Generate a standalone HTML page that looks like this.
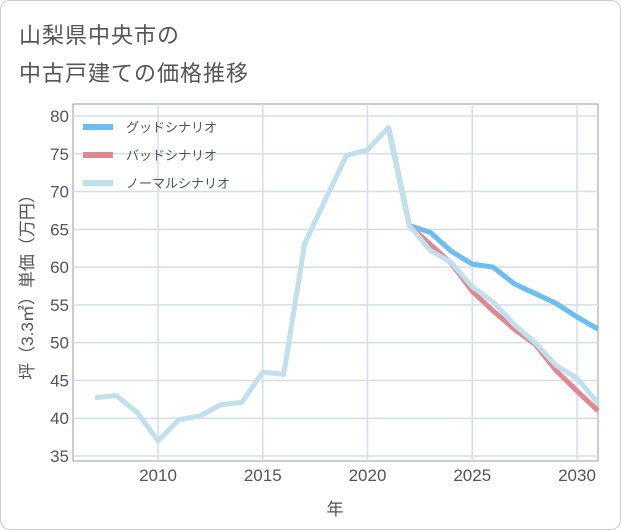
<!DOCTYPE html>
<html><head><meta charset="utf-8"><style>
body{margin:0;background:#fff;font-family:"Liberation Sans","Noto Sans CJK JP",sans-serif;}
#wrap{position:relative;width:619px;height:528px;border:1px solid #ccc;border-radius:10px;overflow:hidden;background:#fff}
.title{position:absolute;left:18px;font-size:22px;color:#555;letter-spacing:1px}
</style></head><body>
<div id="wrap">
<div class="title" style="top:17px">山梨県中央市の</div>
<div class="title" style="top:55px">中古戸建ての価格推移</div>
<svg id="chart" width="621" height="530" style="position:absolute;left:0;top:0"></svg>
</div>
<script>
const years=[2007,2008,2009,2010,2011,2012,2013,2014,2015,2016,2017,2018,2019,2020,2021,2022,2023,2024,2025,2026,2027,2028,2029,2030,2031];
const normalVals=[42.7,43.0,40.8,37.0,39.8,40.3,41.8,42.1,46.1,45.8,63.1,69.0,74.8,75.5,78.5,65.5,62.2,60.6,57.4,55.4,52.4,50.0,47.0,45.3,42.0];
const futureYears=[2021,2022,2023,2024,2025,2026,2027,2028,2029,2030,2031];
const goodVals=[78.5,65.5,64.6,62.1,60.4,60.0,57.8,56.5,55.2,53.4,51.8];
const badVals=[78.5,65.5,63.0,60.5,56.8,54.2,51.8,49.8,46.3,43.6,41.0];
const yTicks=[35,40,45,50,55,60,65,70,75,80];
const xTicks=[2010,2015,2020,2025,2030];
const legendLabels=["グッドシナリオ","バッドシナリオ","ノーマルシナリオ"];
const colors=["#6bbdf3","#e0888f","#bfe0ec"];
const L=72,R=597,T=103,B=460;
const xs=y=>157+(y-2010)*20.95;
const ys=v=>455-(v-35)*(340/45);
const svg=document.getElementById('chart');
const NS='http://www.w3.org/2000/svg';
function mk(tag,attrs,parent){const e=document.createElementNS(NS,tag);for(const k in attrs)e.setAttribute(k,attrs[k]);(parent||svg).appendChild(e);return e;}
const bg=mk('rect',{x:L,y:T,width:R-L,height:B-T,fill:'#fff',stroke:'#999','stroke-width':1});


yTicks.forEach(t=>{
 const g=mk('line',{x1:L,x2:R,y1:ys(t),y2:ys(t),stroke:'#d3dee8','stroke-width':1.5});
 
 
 const tx=mk('text',{x:L-4,y:ys(t)+6,'text-anchor':'end','font-size':17,fill:'#555'});
 tx.textContent=t;
 
 
});
xTicks.forEach(t=>{
 const g=mk('line',{x1:xs(t),x2:xs(t),y1:T,y2:B,stroke:'#d3dee8','stroke-width':1.5});
 
 
 const tx=mk('text',{x:xs(t),y:B+20,'text-anchor':'middle','font-size':17,fill:'#555'});
 tx.textContent=t;
 
 
});
function line(xv,vals,color,name){
 const p=mk('polyline',{points:xv.map((y,i)=>xs(y)+','+ys(vals[i])).join(' '),fill:'none',stroke:color,'stroke-width':5,'stroke-linejoin':'round'});
 
 
}
line(futureYears,goodVals,colors[0],'good-scenario-line');
line(futureYears,badVals,colors[1],'bad-scenario-line');
line(years,normalVals,colors[2],'normal-scenario-line');
legendLabels.forEach((lab,i)=>{
 const y=126+i*28;
 const s=mk('line',{x1:82,x2:112,y1:y,y2:y,stroke:colors[i],'stroke-width':6});
 
 
 const tx=mk('text',{x:125,y:y+5,'font-size':13,fill:'#555'});
 tx.textContent=lab;
 
 
});
const yt=mk('text',{x:0,y:0,transform:'translate(32,282) rotate(-90)','text-anchor':'middle','font-size':17,fill:'#555'});
yt.textContent='坪（3.3㎡）単価（万円）';


const xt=mk('text',{x:334,y:514,'text-anchor':'middle','font-size':17,fill:'#555'});
xt.textContent='年';


</script>
</body></html>
